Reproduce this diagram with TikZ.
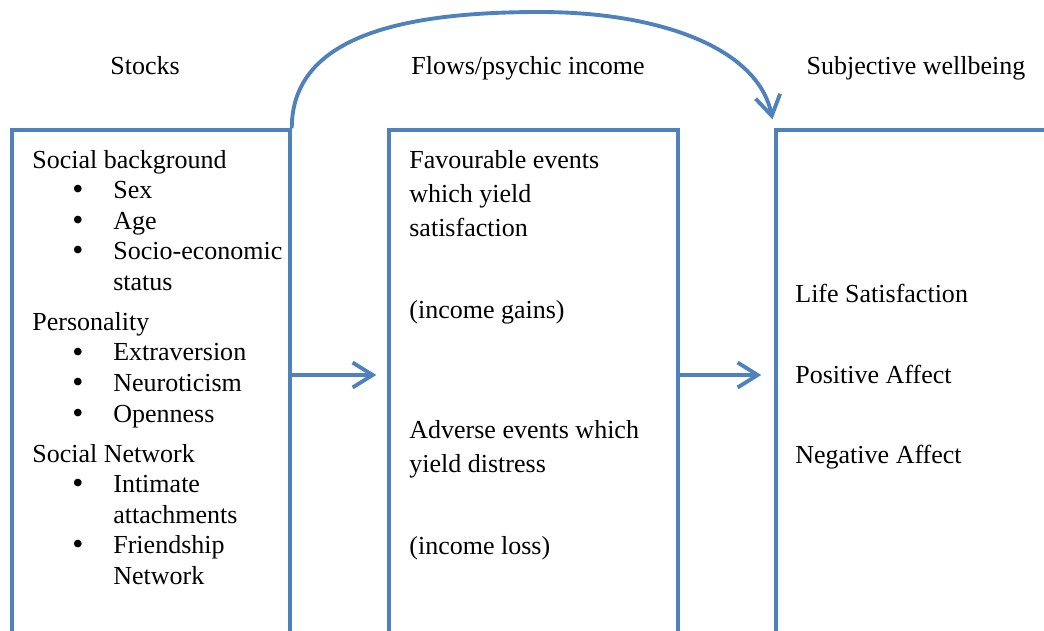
\documentclass[tikz,border=0pt]{standalone}
\usepackage{fontspec}
\setmainfont{Liberation Serif}
\usetikzlibrary{arrows.meta}
\definecolor{linkblue}{RGB}{79,129,189}
\newcommand{\dotmark}{\raisebox{-0.6pt}{\fontsize{18}{18}\selectfont\textbullet}}

\begin{document}
\begin{tikzpicture}[
        panel/.style={rectangle, draw=linkblue, line width=2pt, inner sep=0pt, minimum height=10.5cm},
        arrow/.style={-{Straight Barb[length=4mm, width=5mm, line width=2.2pt]}, draw=linkblue, line width=2.2pt},
        heading/.style={anchor=base, inner sep=0pt, font=\fontsize{14.8}{17.4}\selectfont},
        boxtext/.style={anchor=base west, inner sep=0pt, font=\fontsize{14.8}{17.4}\selectfont},
        para/.style={boxtext, font=\fontsize{14.8}{19.4}\selectfont}
    ]
        \useasboundingbox (0,0) rectangle (20.88,12.6);
        \clip (0,0) rectangle (20.88,12.6);

        % column titles
        \node[heading] (stockstitle) at (2.9, 11.12) {Stocks};
        \node[heading] (flowstitle) at (10.56, 11.12) {Flows/psychic income};
        \node[heading] (swbtitle) at (18.32, 11.12) {Subjective wellbeing};

        % the three boxes (cut off at the bottom)
        \node[panel, minimum width=5.56cm] (stocks) at (3.02, 4.75) {};
        \node[panel, minimum width=5.78cm] (flows) at (10.67, 4.75) {};
        \node[panel, minimum width=5.98cm] (wellbeing) at (18.51, 4.75) {};

        \node[boxtext] (stocklist) at (0.64, 9.24) {\begin{tabular}[t]{@{}p{0.8cm}@{}p{0.82cm}@{}l@{}}
            \multicolumn{3}{@{}l@{}}{Social background}\\
            & \dotmark & Sex\\
            & \dotmark & Age\\
            & \dotmark & Socio-economic\\
            & & status\\[5.4pt]
            \multicolumn{3}{@{}l@{}}{Personality}\\
            & \dotmark & Extraversion\\
            & \dotmark & Neuroticism\\
            & \dotmark & Openness\\[5.4pt]
            \multicolumn{3}{@{}l@{}}{Social Network}\\
            & \dotmark & Intimate\\
            & & attachments\\
            & \dotmark & Friendship\\
            & & Network
        \end{tabular}};

        \node[para] (good) at (8.18, 9.24) {\begin{tabular}[t]{@{}l@{}}Favourable events\\ which yield\\ satisfaction\end{tabular}};
        \node[para] (gains) at (8.18, 6.24) {(income gains)};
        \node[para] (bad) at (8.18, 3.84) {\begin{tabular}[t]{@{}l@{}}Adverse events which\\ yield distress\end{tabular}};
        \node[para] (loss) at (8.18, 1.52) {(income loss)};

        \node[boxtext] (life) at (15.9, 6.56) {Life Satisfaction};
        \node[boxtext] (posaff) at (15.9, 4.94) {Positive Affect};
        \node[boxtext] (negaff) at (15.9, 3.34) {Negative Affect};

        % connectors
        \coordinate (level) at (0, 5.1);
        \coordinate (peak) at (10.8, 12.36);
        \draw[arrow, shorten >=0.22cm] (stocks.east |- level) -- (flows.west |- level);
        \draw[arrow, shorten >=0.26cm] (flows.east |- level) -- (wellbeing.west |- level);
        \draw[arrow, shorten >=0.18cm] (stocks.north east) .. controls +(0, 1.9) and +(-2.6, 0) .. (peak)
            .. controls +(2.4, 0) and +(-0.32, 1.6) .. (wellbeing.north west);
    \end{tikzpicture}
\end{document}
